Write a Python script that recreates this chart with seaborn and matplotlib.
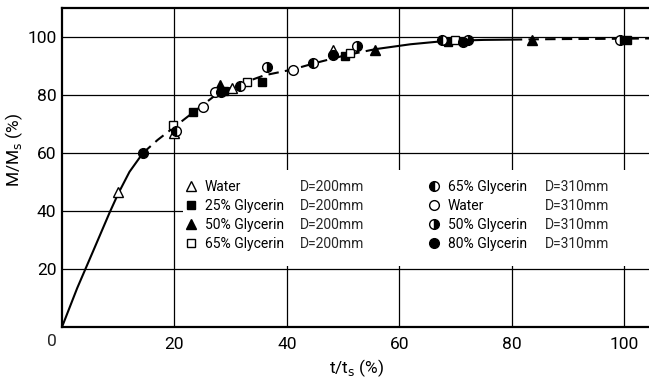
import matplotlib
matplotlib.use("Agg")
import matplotlib.pyplot as plt
from matplotlib.lines import Line2D
from matplotlib.patches import Rectangle
import seaborn as sns
import pandas as pd

sns.set_theme(style="white")
plt.rcParams["font.family"] = ["Roboto", "DejaVu Sans"]

# ---- data ----
water_200_x = [10.0, 20.0, 30.2, 48.2]
water_200_y = [46.5, 67.0, 82.4, 95.5]
g25_200_x = [23.3, 28.9, 35.6, 50.4, 68.7, 100.4]
g25_200_y = [74.0, 81.5, 84.5, 93.4, 98.3, 99.0]
g50_200_x = [28.1, 55.7, 83.6]
g50_200_y = [83.5, 95.5, 99.0]
g65_200_x = [19.8, 32.9, 51.2, 69.9]
g65_200_y = [69.5, 84.5, 94.5, 99.0]
g65_310_x = [20.3, 31.6, 44.7, 67.6]
g65_310_y = [67.5, 83.0, 91.0, 99.0]
water_310_x = [25.0, 27.2, 41.1]
water_310_y = [76.0, 81.0, 88.6]
g50_310_x = [36.5, 52.5, 72.2, 99.3]
g50_310_y = [89.7, 97.0, 99.0, 99.0]
g80_310_x = [14.4, 28.3, 48.2, 71.3]
g80_310_y = [60.0, 81.0, 93.8, 98.3]

curve_x = [0, 2.7, 5.5, 8.5, 10, 12, 14.4, 17, 20, 23, 25, 28, 32, 36, 41, 45,
           50, 55.7, 62, 68, 75, 80, 84, 90, 100, 104.4]
curve_y = [0, 13.4, 26, 39.6, 46, 53.5, 60, 64.5, 69, 73.5, 76.5, 81, 84, 86.8,
           88.8, 91, 93.5, 95.8, 97.5, 98.6, 99.0, 99.1, 99.2, 99.3, 99.4, 99.5]
curve_breaks = [0, 14.4, 55.7, 80, 104.4]
curve_styles = ["-", (0, (5, 3)), "-", (0, (5, 3))]

labels_name = ["Water", "25% Glycerin", "50% Glycerin", "65% Glycerin",
               "65% Glycerin", "Water", "50% Glycerin", "80% Glycerin"]
labels_d = ["D=200mm"] * 4 + ["D=310mm"] * 4

series = [
    (water_200_x, water_200_y, dict(marker="^", markerfacecolor="white")),
    (g25_200_x, g25_200_y, dict(marker="s", markerfacecolor="black")),
    (g50_200_x, g50_200_y, dict(marker="^", markerfacecolor="black")),
    (g65_200_x, g65_200_y, dict(marker="s", markerfacecolor="white")),
    (g65_310_x, g65_310_y, dict(marker="o", fillstyle="left", markerfacecolor="black", markerfacecoloralt="white")),
    (water_310_x, water_310_y, dict(marker="o", markerfacecolor="white")),
    (g50_310_x, g50_310_y, dict(marker="o", fillstyle="right", markerfacecolor="black", markerfacecoloralt="white")),
    (g80_310_x, g80_310_y, dict(marker="o", markerfacecolor="black")),
]

W, H = 649, 380
AX_L, AX_B, AX_T = 62, 327, 8
fig = plt.figure(figsize=(W / 100, H / 100), dpi=100)
ax = fig.add_axes([AX_L / W, 1 - AX_B / H, (W - AX_L) / W, (AX_B - AX_T) / H])
aw, ah = W - AX_L, AX_B - AX_T


def axc(px, py):
    return (px - AX_L) / aw, (AX_B - py) / ah


# curve
cdf = pd.DataFrame({"x": curve_x, "y": curve_y})
for i, ls in enumerate(curve_styles):
    lo, hi = curve_breaks[i], curve_breaks[i + 1]
    seg = cdf[(cdf.x >= lo) & (cdf.x <= hi)]
    sns.lineplot(data=seg, x="x", y="y", ax=ax, color="black", lw=1.5,
                 linestyle=ls, estimator=None, sort=False, zorder=3)

ms = {"^": 7, "s": 6, "o": 7}
for xs, ys, st in series:
    df = pd.DataFrame({"x": xs, "y": ys})
    sns.lineplot(data=df, x="x", y="y", ax=ax, color="black", linestyle="none",
                 estimator=None, sort=False, markeredgecolor="black",
                 markeredgewidth=1.0, markersize=ms[st["marker"]], zorder=4, **st)

ax.set_xlim(0, 104.4)
ax.set_ylim(0, 110)
ax.set_xticks([20, 40, 60, 80, 100])
ax.set_yticks([20, 40, 60, 80, 100])
ax.set_xticklabels(["20", "40", "60", "80", "100"], fontsize=12.5)
ax.set_yticklabels(["20", "40", "60", "80", "100"], fontsize=12.5)
ax.tick_params(axis="x", length=0, pad=7, colors="black")
ax.tick_params(axis="y", length=0, pad=4, colors="black")
ax.grid(True, color="black", lw=0.9)
for side in ["left", "bottom", "top"]:
    ax.spines[side].set_color("black")
    ax.spines[side].set_linewidth(1.6)
ax.spines["right"].set_visible(False)

ax.set_xlabel("t/t$_\\mathrm{s}$ (%)", fontsize=12.5, color="black")
ax.set_ylabel("M/M$_\\mathrm{s}$ (%)", fontsize=12.5, color="black")
ax.xaxis.set_label_coords(*axc(357, 357))
ax.yaxis.set_label_coords(*axc(25, 150))
x0, y0 = axc(52, 342)
ax.text(x0, y0, "0", transform=ax.transAxes, fontsize=12.5,
        ha="center", va="center")

# white box behind legend (covers the grid)
bx0, by0 = axc(183, 266)
bx1, by1 = axc(W, 170)
ax.add_patch(Rectangle((bx0, by0), bx1 - bx0, by1 - by0, transform=ax.transAxes,
                       facecolor="white", edgecolor="none", zorder=1))

legs = []
for col, left_px in enumerate([184, 427]):
    hs, ls_ = [], []
    for r in range(4):
        i = col * 4 + r
        st = dict(series[i][2])
        m = st.pop("marker")
        hs.append(Line2D([], [], linestyle="none", marker=m, color="black",
                         markeredgecolor="black", markersize=ms[m], **st))
        ls_.append(labels_name[i])
    lg = ax.legend(hs, ls_, loc="upper left", bbox_to_anchor=axc(left_px, 180),
                   frameon=False, fontsize=10, handlelength=1.0,
                   handletextpad=0.5, labelspacing=0.36, borderpad=0,
                   borderaxespad=0)
    lg.set_zorder(5)
    for t in lg.get_texts():
        t.set_color("black")
    if col == 0:
        ax.add_artist(lg)
    legs.append(lg)

fig.canvas.draw()
inv = ax.transAxes.inverted()
for col, dx_px in enumerate([300, 545]):
    for r, t in enumerate(legs[col].get_texts()):
        bb = t.get_window_extent()
        yc = (bb.y0 + bb.y1) / 2
        _, ya = inv.transform((0, yc))
        xa, _ = axc(dx_px, 0)
        ax.text(xa, ya, labels_d[col * 4 + r], transform=ax.transAxes,
                fontsize=10, ha="left", va="center", zorder=6)

fig.savefig("out.png", dpi=100)
